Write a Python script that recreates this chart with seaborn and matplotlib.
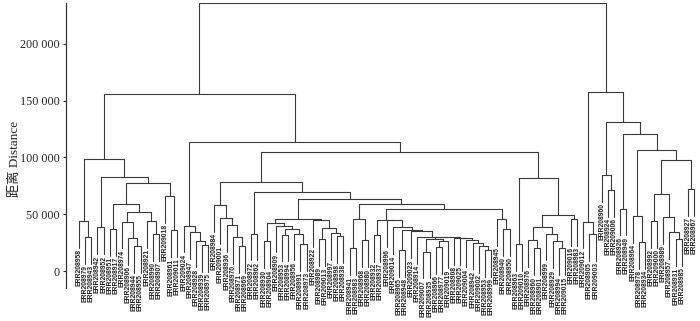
import matplotlib
matplotlib.use("Agg")
import matplotlib.pyplot as plt
import pandas as pd
import seaborn as sns

# leaves in plotting order (left to right)
leaf_labels = [
    "ERR208958", "ERR208979", "ERR208943", "ERR208942", "ERR208952", "ERR208951", "ERR208917",
    "ERR208974", "ERR208906", "ERR208944", "ERR208955", "ERR208921", "ERR208990", "ERR208907",
    "ERR209018", "ERR208961", "ERR209011", "ERR209024", "ERR208947", "ERR208928", "ERR208939",
    "ERR208975", "ERR208984", "ERR209001", "ERR208936", "ERR208970", "ERR208971", "ERR208969",
    "ERR208972", "ERR208962", "ERR208930", "ERR208904", "ERR208909", "ERR208953", "ERR208994",
    "ERR208956", "ERR208991", "ERR208973", "ERR208922", "ERR208989", "ERR209013", "ERR208997",
    "ERR208998", "ERR208938", "ERR208941", "ERR208983", "ERR208968", "ERR208980", "ERR208932",
    "ERR208937", "ERR208996", "ERR209014", "ERR208965", "ERR208948", "ERR209023", "ERR208914",
    "ERR209007", "ERR208935", "ERR208966", "ERR208977", "ERR209019", "ERR208908", "ERR209025",
    "ERR209004", "ERR208942", "ERR209002", "ERR208953", "ERR208999", "ERR208945", "ERR208940",
    "ERR208950", "ERR208963", "ERR209010", "ERR208976", "ERR208960", "ERR208901", "ERR208999",
    "ERR208929", "ERR208994", "ERR209015", "ERR209016", "ERR208983", "ERR209012", "ERR208905",
    "ERR209003", "ERR208960", "ERR208924", "ERR209006", "ERR208926", "ERR208949", "ERR208964",
    "ERR208978", "ERR208934", "ERR208992", "ERR209000", "ERR208989", "ERR208957", "ERR208931",
    "ERR208985", "ERR208927", "ERR208967",
]

# linkage: (node, left child, right child, height); ints are leaf positions
merges = [
    ("a1", 1, 2, 30000), ("a2", 0, "a1", 44000), ("a3", 3, 4, 38500), ("a4", 5, 6, 37000),
    ("a5", 9, 10, 22000), ("a6", 8, "a5", 29000), ("a7", 7, "a6", 43500), ("a8", 12, 13, 32500),
    ("a9", 11, "a8", 44000), ("a10", "a7", "a9", 52000), ("a11", "a4", "a10", 59000),
    ("a12", 15, 16, 36000), ("a13", 14, "a12", 66000), ("a14", "a11", "a13", 77500),
    ("a15", "a3", "a14", 82800), ("L", "a2", "a15", 99000),
    ("p1", 20, 21, 23000), ("p2", 19, "p1", 26700), ("p3", 18, "p2", 34000), ("p4", 17, "p3", 40000),
    ("r1", 26, 27, 22000), ("r2", 25, "r1", 30000), ("r3", 24, "r2", 40500), ("r4", 23, "r3", 47000),
    ("r5", 22, "r4", 58000), ("r6", 28, 29, 33000),
    ("t1", 30, 31, 26000), ("t2", 33, 34, 32000), ("t3", 36, 37, 24000), ("t4", 35, "t3", 33000),
    ("t5", "t2", "t4", 37000), ("t6", 32, "t5", 40000), ("t7", "t1", "t6", 42000),
    ("t8", 42, 43, 31000), ("t9", 41, "t8", 33500), ("t10", 39, 40, 28000),
    ("t11", "t10", "t9", 37500), ("t12", 38, "t11", 45000), ("t13", "t7", "t12", 45500),
    ("n1", 44, 45, 20000), ("n2", 46, 47, 27000), ("n3", "n1", "n2", 46000),
    ("c1", 48, 49, 31700), ("c2", 52, 53, 18500), ("c3", 56, 57, 17000), ("c4", 58, 59, 21000),
    ("c5", "c4", 60, 26000), ("c6", "c3", "c5", 28000), ("c7", 66, 67, 18500),
    ("c8", 65, "c7", 22000), ("c9", 64, "c8", 25000), ("c10", 63, "c9", 27000),
    ("c11", 62, "c10", 29000), ("c12", 61, "c11", 29300), ("c13", "c6", "c12", 29600),
    ("c14", 55, "c13", 30000), ("c15", 54, "c14", 35000), ("c16", "c2", "c15", 36000),
    ("c17", 51, "c16", 38500), ("c18", 50, "c17", 44500), ("c19", "c1", "c18", 45000),
    ("d1", 69, 70, 37000), ("d2", 68, "d1", 46000), ("n4", "c19", "d2", 54600),
    ("n5", "n3", "n4", 59000), ("n6", "t13", "n5", 63400), ("n7", "r6", "n6", 69900),
    ("R", "r5", "n7", 78700),
    ("s1", 71, 72, 24000), ("s2", 74, 75, 20000), ("s3", 73, "s2", 27000), ("s4", 78, 79, 20000),
    ("s5", 77, "s4", 26000), ("s6", 76, "s5", 33000), ("s7", "s3", "s6", 39000),
    ("s8", 80, 81, 46000), ("s9", "s7", "s8", 49000), ("S", "s1", "s9", 82000),
    ("Q", "R", "S", 105000), ("M", "p4", "Q", 113600), ("LM", "L", "M", 156000),
    ("g1", 83, 84, 32600), ("g2", 82, "g1", 43500), ("g3", 86, 87, 71400), ("g4", 85, "g3", 84600),
    ("g5", 88, 89, 55000), ("g6", 91, 92, 25800), ("g7", 90, "g6", 48500), ("g8", 93, 94, 44300),
    ("g9", 97, 98, 28000), ("g10", 96, "g9", 34600), ("g11", 95, "g10", 47800),
    ("g12", "g8", "g11", 67600), ("g13", 99, 100, 72200), ("g14", "g12", "g13", 97800),
    ("g15", "g7", "g14", 106600), ("g16", "g5", "g15", 121000), ("g17", "g4", "g16", 131500),
    ("RC", "g2", "g17", 157700), ("root", "LM", "RC", 236000),
]

y_ticks = [0, 50000, 100000, 150000, 200000]
hang = 23600  # leaves hang 10% of the tree height below their parent

# dendrogram segments
pos = {i: float(i) for i in range(len(leaf_labels))}
height = {}
leaf_end = {}
rows = []
for k, (name, a, b, h) in enumerate(merges):
    pos[name] = (pos[a] + pos[b]) / 2
    height[name] = h
    ends = []
    for c in (a, b):
        if isinstance(c, int):
            leaf_end[c] = h - hang
            ends.append(h - hang)
        else:
            ends.append(height[c])
    rows += [(k, pos[a], ends[0]), (k, pos[a], h), (k, pos[b], h), (k, pos[b], ends[1])]
seg = pd.DataFrame(rows, columns=["seg", "x", "y"])

sns.set_theme(style="white")
plt.rcParams["font.family"] = ["Liberation Serif", "Noto Sans CJK SC"]

fig = plt.figure(figsize=(7, 3.21), dpi=100)
ax = fig.add_axes([66 / 700, 0, 634 / 700, 318 / 321])

sns.lineplot(data=seg, x="x", y="y", units="seg", estimator=None, sort=False,
             color="#3a3a3a", linewidth=0.8, ax=ax, legend=False)

for i, lab in enumerate(leaf_labels):
    ax.text(i, leaf_end[i] - 1300, lab, rotation=90, ha="center", va="top",
            fontsize=4.9, fontweight="bold", family="Liberation Sans", color="#222222")

step = 6.15  # pixels between leaves
ax.set_xlim(-13 / step, -13 / step + 634 / step)
ax.set_ylim(-44050, 236108)
ax.set_xticks([])
ax.set_yticks(y_ticks)
ax.set_yticklabels([f"{v:,}".replace(",", " ") for v in y_ticks], fontsize=8.7)
ax.tick_params(axis="y", direction="out", length=2.5, width=0.8, color="#333333", pad=2, left=True)
ax.set_xlabel("")
ax.set_ylabel("")
for s in ["top", "right", "bottom"]:
    ax.spines[s].set_visible(False)
ax.spines["left"].set_color("#333333")
ax.spines["left"].set_linewidth(0.9)
ax.spines["left"].set_bounds(-15000, 236000)

fig.text(15 / 700, 1 - 159 / 321, "距离 Distance", rotation=90, ha="center", va="center",
         fontsize=9.5)

fig.savefig("out.png", dpi=100)
